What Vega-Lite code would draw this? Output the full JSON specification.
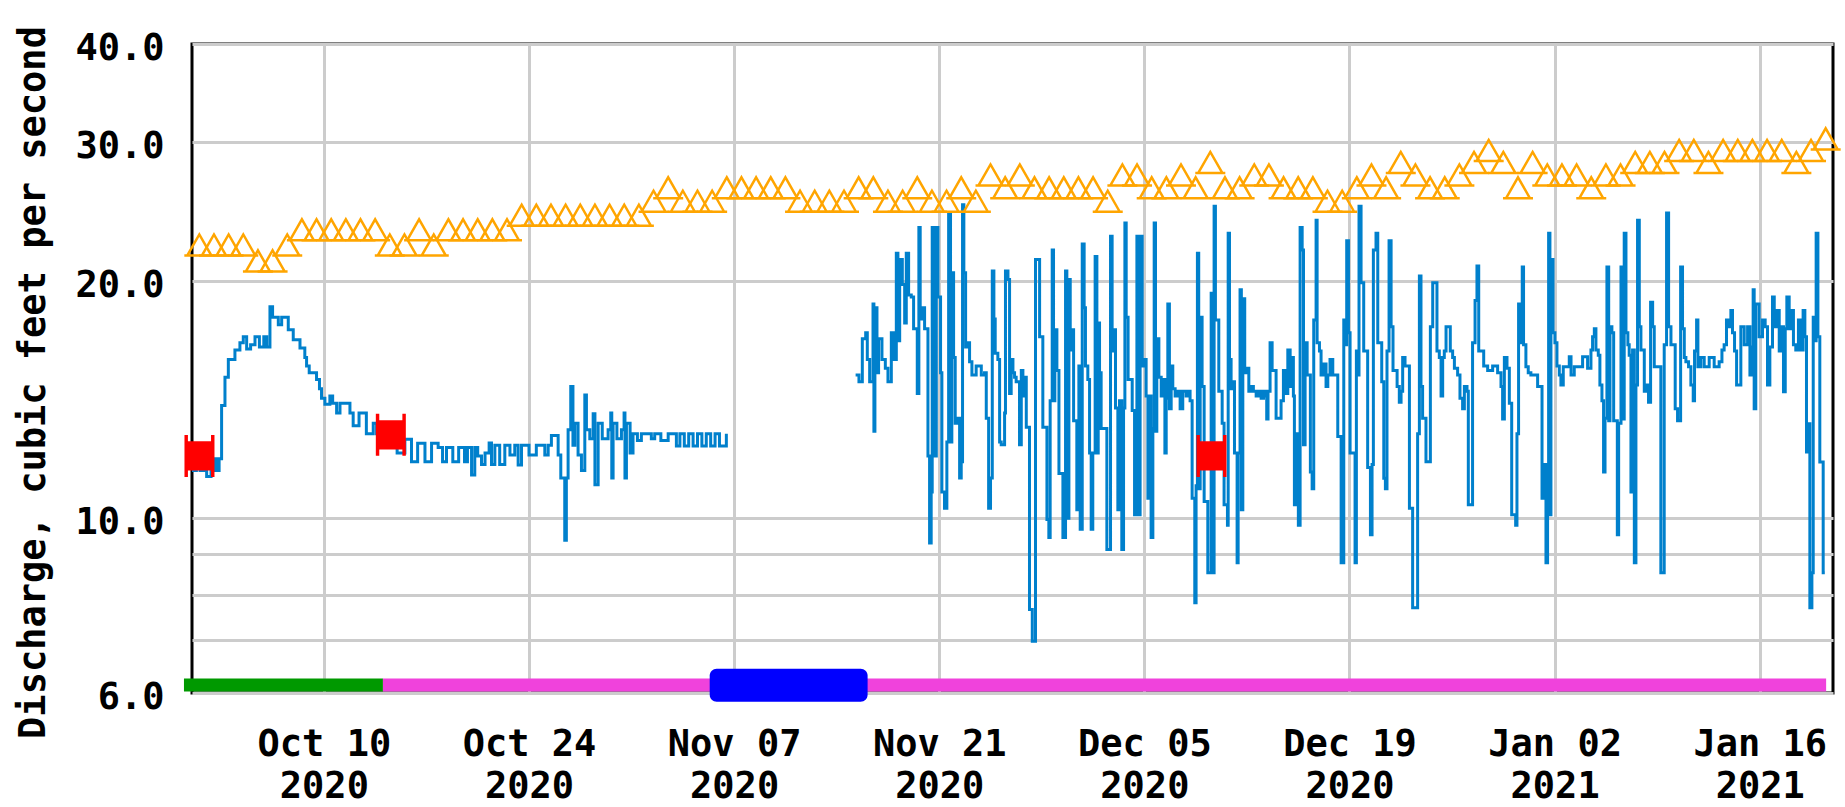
{
  "$schema": "https://vega.github.io/schema/vega-lite/v6.json",
  "width": 1641,
  "height": 649,
  "autosize": {"type": "none"},
  "padding": {"left": 192, "top": 44, "right": 12, "bottom": 114},
  "background": "white",
  "config": {
    "view": {"stroke": "black", "strokeWidth": 3},
    "font": "DejaVu Sans Mono"
  },
  "datasets": {
    "status": [
      {"t": "2020-09-30T10:50", "t2": "2020-10-14T00:45", "status": "Approved"},
      {"t": "2020-10-14T00:45", "t2": "2021-01-20T12:45", "status": "Provisional"}
    ],
    "gap": [
      {"t": "2020-11-05T08:00", "t2": "2020-11-16T02:40", "status": "Equipment malfunction"}
    ],
    "meas": [
      {"t": "2020-10-01T12:15", "v": 12.0},
      {"t": "2020-10-14T13:41", "v": 12.76},
      {"t": "2020-12-09T13:55", "v": 12.0}
    ],
    "median": [
      {"t":"2020-10-01T12:00","v":22},{"t":"2020-10-02T12:00","v":22},{"t":"2020-10-03T12:00","v":22},{"t":"2020-10-04T12:00","v":22},
      {"t":"2020-10-05T12:00","v":21},{"t":"2020-10-06T12:00","v":21},{"t":"2020-10-07T12:00","v":22},{"t":"2020-10-08T12:00","v":23},
      {"t":"2020-10-09T12:00","v":23},{"t":"2020-10-10T12:00","v":23},{"t":"2020-10-11T12:00","v":23},{"t":"2020-10-12T12:00","v":23},
      {"t":"2020-10-13T12:00","v":23},{"t":"2020-10-14T12:00","v":22},{"t":"2020-10-15T12:00","v":22},{"t":"2020-10-16T12:00","v":23},
      {"t":"2020-10-17T12:00","v":22},{"t":"2020-10-18T12:00","v":23},{"t":"2020-10-19T12:00","v":23},{"t":"2020-10-20T12:00","v":23},
      {"t":"2020-10-21T12:00","v":23},{"t":"2020-10-22T12:00","v":23},{"t":"2020-10-23T12:00","v":24},{"t":"2020-10-24T12:00","v":24},
      {"t":"2020-10-25T12:00","v":24},{"t":"2020-10-26T12:00","v":24},{"t":"2020-10-27T12:00","v":24},{"t":"2020-10-28T12:00","v":24},
      {"t":"2020-10-29T12:00","v":24},{"t":"2020-10-30T12:00","v":24},{"t":"2020-10-31T12:00","v":24},
      {"t":"2020-11-01T12:00","v":25},{"t":"2020-11-02T12:00","v":26},{"t":"2020-11-03T12:00","v":25},{"t":"2020-11-04T12:00","v":25},
      {"t":"2020-11-05T12:00","v":25},{"t":"2020-11-06T12:00","v":26},{"t":"2020-11-07T12:00","v":26},{"t":"2020-11-08T12:00","v":26},
      {"t":"2020-11-09T12:00","v":26},{"t":"2020-11-10T12:00","v":26},{"t":"2020-11-11T12:00","v":25},{"t":"2020-11-12T12:00","v":25},
      {"t":"2020-11-13T12:00","v":25},{"t":"2020-11-14T12:00","v":25},{"t":"2020-11-15T12:00","v":26},{"t":"2020-11-16T12:00","v":26},
      {"t":"2020-11-17T12:00","v":25},{"t":"2020-11-18T12:00","v":25},{"t":"2020-11-19T12:00","v":26},{"t":"2020-11-20T12:00","v":25},
      {"t":"2020-11-21T12:00","v":25},{"t":"2020-11-22T12:00","v":26},{"t":"2020-11-23T12:00","v":25},{"t":"2020-11-24T12:00","v":27},
      {"t":"2020-11-25T12:00","v":26},{"t":"2020-11-26T12:00","v":27},{"t":"2020-11-27T12:00","v":26},{"t":"2020-11-28T12:00","v":26},
      {"t":"2020-11-29T12:00","v":26},{"t":"2020-11-30T12:00","v":26},
      {"t":"2020-12-01T12:00","v":26},{"t":"2020-12-02T12:00","v":25},{"t":"2020-12-03T12:00","v":27},{"t":"2020-12-04T12:00","v":27},
      {"t":"2020-12-05T12:00","v":26},{"t":"2020-12-06T12:00","v":26},{"t":"2020-12-07T12:00","v":27},{"t":"2020-12-08T12:00","v":26},
      {"t":"2020-12-09T12:00","v":28},{"t":"2020-12-10T12:00","v":26},{"t":"2020-12-11T12:00","v":26},{"t":"2020-12-12T12:00","v":27},
      {"t":"2020-12-13T12:00","v":27},{"t":"2020-12-14T12:00","v":26},{"t":"2020-12-15T12:00","v":26},{"t":"2020-12-16T12:00","v":26},
      {"t":"2020-12-17T12:00","v":25},{"t":"2020-12-18T12:00","v":25},{"t":"2020-12-19T12:00","v":26},{"t":"2020-12-20T12:00","v":27},
      {"t":"2020-12-21T12:00","v":26},{"t":"2020-12-22T12:00","v":28},{"t":"2020-12-23T12:00","v":27},{"t":"2020-12-24T12:00","v":26},
      {"t":"2020-12-25T12:00","v":26},{"t":"2020-12-26T12:00","v":27},{"t":"2020-12-27T12:00","v":28},{"t":"2020-12-28T12:00","v":29},
      {"t":"2020-12-29T12:00","v":28},{"t":"2020-12-30T12:00","v":26},{"t":"2020-12-31T12:00","v":28},
      {"t":"2021-01-01T12:00","v":27},{"t":"2021-01-02T12:00","v":27},{"t":"2021-01-03T12:00","v":27},{"t":"2021-01-04T12:00","v":26},
      {"t":"2021-01-05T12:00","v":27},{"t":"2021-01-06T12:00","v":27},{"t":"2021-01-07T12:00","v":28},{"t":"2021-01-08T12:00","v":28},
      {"t":"2021-01-09T12:00","v":28},{"t":"2021-01-10T12:00","v":29},{"t":"2021-01-11T12:00","v":29},{"t":"2021-01-12T12:00","v":28},
      {"t":"2021-01-13T12:00","v":29},{"t":"2021-01-14T12:00","v":29},{"t":"2021-01-15T12:00","v":29},{"t":"2021-01-16T12:00","v":29},
      {"t":"2021-01-17T12:00","v":29},{"t":"2021-01-18T12:00","v":28},{"t":"2021-01-19T12:00","v":29},{"t":"2021-01-20T12:00","v":30}
    ],
    "flow": [
      {"t":"2020-10-01T00:00","v":11.5,"seg":1},{"t":"2020-10-01T07:12","v":11.9,"seg":1},{"t":"2020-10-01T13:12","v":11.5,"seg":1},
      {"t":"2020-10-02T00:00","v":11.3,"seg":1},{"t":"2020-10-02T07:12","v":11.5,"seg":1},{"t":"2020-10-02T12:00","v":11.9,"seg":1},
      {"t":"2020-10-02T16:48","v":11.5,"seg":1},{"t":"2020-10-02T20:24","v":11.9,"seg":1},{"t":"2020-10-03T00:29","v":13.9,"seg":1},
      {"t":"2020-10-03T06:00","v":15.1,"seg":1},{"t":"2020-10-03T11:31","v":15.9,"seg":1},{"t":"2020-10-03T22:19","v":16.35,"seg":1},
      {"t":"2020-10-04T06:29","v":16.7,"seg":1},{"t":"2020-10-04T12:00","v":17.0,"seg":1},{"t":"2020-10-04T17:31","v":16.4,"seg":1},
      {"t":"2020-10-05T00:00","v":16.6,"seg":1},{"t":"2020-10-05T07:12","v":17.0,"seg":1},{"t":"2020-10-05T14:24","v":16.5,"seg":1},
      {"t":"2020-10-05T21:36","v":17.0,"seg":1},{"t":"2020-10-06T02:24","v":16.5,"seg":1},{"t":"2020-10-06T07:41","v":18.55,"seg":1},
      {"t":"2020-10-06T12:00","v":18.0,"seg":1},{"t":"2020-10-06T21:22","v":17.6,"seg":1},{"t":"2020-10-07T02:53","v":18.0,"seg":1},
      {"t":"2020-10-07T13:41","v":17.35,"seg":1},{"t":"2020-10-07T21:50","v":16.85,"seg":1},{"t":"2020-10-08T08:53","v":16.45,"seg":1},
      {"t":"2020-10-08T16:48","v":16.0,"seg":1},{"t":"2020-10-08T19:41","v":15.6,"seg":1},{"t":"2020-10-09T00:00","v":15.3,"seg":1},
      {"t":"2020-10-09T12:00","v":15.0,"seg":1},{"t":"2020-10-09T16:48","v":14.6,"seg":1},{"t":"2020-10-09T20:10","v":14.2,"seg":1},
      {"t":"2020-10-10T01:41","v":13.95,"seg":1},{"t":"2020-10-10T09:50","v":14.3,"seg":1},{"t":"2020-10-10T14:24","v":14.0,"seg":1},
      {"t":"2020-10-10T20:53","v":13.6,"seg":1},{"t":"2020-10-11T02:24","v":14.0,"seg":1},{"t":"2020-10-11T18:43","v":13.6,"seg":1},
      {"t":"2020-10-12T00:00","v":13.1,"seg":1},{"t":"2020-10-12T09:36","v":13.6,"seg":1},{"t":"2020-10-12T21:36","v":12.8,"seg":1},
      {"t":"2020-10-13T08:53","v":13.2,"seg":1},{"t":"2020-10-13T14:24","v":12.8,"seg":1},{"t":"2020-10-14T12:00","v":12.6,"seg":1},
      {"t":"2020-10-15T00:00","v":12.1,"seg":1},{"t":"2020-10-15T12:43","v":12.6,"seg":1},{"t":"2020-10-15T23:31","v":11.8,"seg":1},
      {"t":"2020-10-16T09:36","v":12.45,"seg":1},{"t":"2020-10-16T21:36","v":11.8,"seg":1},{"t":"2020-10-17T08:24","v":12.45,"seg":1},
      {"t":"2020-10-17T19:12","v":12.3,"seg":1},{"t":"2020-10-18T02:24","v":11.8,"seg":1},{"t":"2020-10-18T08:53","v":12.3,"seg":1},
      {"t":"2020-10-18T19:12","v":11.8,"seg":1},{"t":"2020-10-19T04:48","v":12.3,"seg":1},{"t":"2020-10-19T14:24","v":11.8,"seg":1},
      {"t":"2020-10-19T19:12","v":12.3,"seg":1},{"t":"2020-10-20T01:55","v":11.35,"seg":1},{"t":"2020-10-20T07:12","v":12.3,"seg":1},
      {"t":"2020-10-20T12:00","v":12.0,"seg":1},{"t":"2020-10-20T18:14","v":11.7,"seg":1},{"t":"2020-10-21T00:00","v":12.1,"seg":1},
      {"t":"2020-10-21T06:43","v":12.46,"seg":1},{"t":"2020-10-21T10:34","v":11.7,"seg":1},{"t":"2020-10-21T16:05","v":12.38,"seg":1},
      {"t":"2020-10-22T00:00","v":11.7,"seg":1},{"t":"2020-10-22T08:24","v":12.38,"seg":1},{"t":"2020-10-22T16:48","v":12.03,"seg":1},
      {"t":"2020-10-23T00:43","v":12.38,"seg":1},{"t":"2020-10-23T06:14","v":11.68,"seg":1},{"t":"2020-10-23T11:46","v":12.38,"seg":1},
      {"t":"2020-10-24T00:00","v":12.03,"seg":1},{"t":"2020-10-24T12:00","v":12.38,"seg":1},{"t":"2020-10-25T01:55","v":12.03,"seg":1},
      {"t":"2020-10-25T07:26","v":12.38,"seg":1},{"t":"2020-10-25T12:43","v":12.74,"seg":1},{"t":"2020-10-25T23:46","v":12.03,"seg":1},
      {"t":"2020-10-26T04:05","v":11.25,"seg":1},{"t":"2020-10-26T10:34","v":9.38,"seg":1},{"t":"2020-10-26T13:12","v":11.25,"seg":1},
      {"t":"2020-10-26T16:05","v":12.95,"seg":1},{"t":"2020-10-26T20:24","v":14.7,"seg":1},{"t":"2020-10-27T00:00","v":12.38,"seg":1},
      {"t":"2020-10-27T03:07","v":13.2,"seg":1},{"t":"2020-10-27T08:24","v":12.03,"seg":1},{"t":"2020-10-27T13:55","v":11.5,"seg":1},
      {"t":"2020-10-27T19:26","v":14.34,"seg":1},{"t":"2020-10-27T22:05","v":12.95,"seg":1},{"t":"2020-10-28T03:36","v":12.62,"seg":1},
      {"t":"2020-10-28T09:07","v":13.57,"seg":1},{"t":"2020-10-28T12:00","v":11.03,"seg":1},{"t":"2020-10-28T17:17","v":13.2,"seg":1},
      {"t":"2020-10-29T00:00","v":12.62,"seg":1},{"t":"2020-10-29T09:36","v":12.95,"seg":1},{"t":"2020-10-29T13:55","v":13.6,"seg":1},
      {"t":"2020-10-29T15:36","v":11.25,"seg":1},{"t":"2020-10-29T17:46","v":13.2,"seg":1},{"t":"2020-10-30T00:00","v":12.62,"seg":1},
      {"t":"2020-10-30T07:26","v":12.95,"seg":1},{"t":"2020-10-30T11:46","v":13.6,"seg":1},{"t":"2020-10-30T13:12","v":11.25,"seg":1},
      {"t":"2020-10-30T15:36","v":13.2,"seg":1},{"t":"2020-10-30T21:36","v":12.1,"seg":1},{"t":"2020-10-31T02:24","v":12.8,"seg":1},
      {"t":"2020-10-31T09:36","v":12.55,"seg":1},{"t":"2020-10-31T16:05","v":12.8,"seg":1},{"t":"2020-11-01T08:24","v":12.62,"seg":1},
      {"t":"2020-11-01T13:55","v":12.8,"seg":1},{"t":"2020-11-02T00:00","v":12.55,"seg":1},{"t":"2020-11-02T12:00","v":12.8,"seg":1},
      {"t":"2020-11-03T01:26","v":12.35,"seg":1},{"t":"2020-11-03T07:12","v":12.8,"seg":1},{"t":"2020-11-03T14:24","v":12.35,"seg":1},
      {"t":"2020-11-03T21:36","v":12.8,"seg":1},{"t":"2020-11-04T04:48","v":12.35,"seg":1},{"t":"2020-11-04T12:00","v":12.8,"seg":1},
      {"t":"2020-11-04T19:12","v":12.35,"seg":1},{"t":"2020-11-05T02:24","v":12.8,"seg":1},{"t":"2020-11-05T09:36","v":12.35,"seg":1},
      {"t":"2020-11-05T16:48","v":12.8,"seg":1},{"t":"2020-11-06T00:00","v":12.35,"seg":1},{"t":"2020-11-06T11:17","v":12.8,"seg":1},

      {"t":"2020-11-15T07:00","v":15.2,"seg":2},{"t":"2020-11-15T12:29","v":14.9,"seg":2},{"t":"2020-11-15T18:00","v":16.9,"seg":2},
      {"t":"2020-11-15T23:31","v":17.2,"seg":2},{"t":"2020-11-16T02:10","v":15.9,"seg":2},{"t":"2020-11-16T06:00","v":14.9,"seg":2},
      {"t":"2020-11-16T11:31","v":18.7,"seg":2},{"t":"2020-11-16T12:58","v":12.9,"seg":2},{"t":"2020-11-16T14:38","v":18.5,"seg":2},
      {"t":"2020-11-16T18:00","v":15.3,"seg":2},{"t":"2020-11-16T20:38","v":16.9,"seg":2},{"t":"2020-11-17T02:10","v":15.9,"seg":2},
      {"t":"2020-11-17T07:41","v":15.5,"seg":2},{"t":"2020-11-17T12:00","v":14.9,"seg":2},{"t":"2020-11-17T17:31","v":17.2,"seg":2},
      {"t":"2020-11-17T21:50","v":15.9,"seg":2},{"t":"2020-11-18T01:41","v":21.7,"seg":2},{"t":"2020-11-18T04:19","v":16.8,"seg":2},
      {"t":"2020-11-18T07:12","v":21.3,"seg":2},{"t":"2020-11-18T11:31","v":19.8,"seg":2},{"t":"2020-11-18T15:22","v":17.7,"seg":2},
      {"t":"2020-11-18T18:00","v":21.7,"seg":2},{"t":"2020-11-18T21:50","v":19.2,"seg":2},{"t":"2020-11-19T02:10","v":19.1,"seg":2},
      {"t":"2020-11-19T06:00","v":17.4,"seg":2},{"t":"2020-11-19T12:00","v":14.4,"seg":2},{"t":"2020-11-19T14:38","v":23.4,"seg":2},
      {"t":"2020-11-19T16:48","v":17.9,"seg":2},{"t":"2020-11-19T21:22","v":18.5,"seg":2},{"t":"2020-11-20T00:00","v":17.4,"seg":2},
      {"t":"2020-11-20T05:31","v":12.0,"seg":2},{"t":"2020-11-20T08:10","v":9.3,"seg":2},{"t":"2020-11-20T10:48","v":10.8,"seg":2},
      {"t":"2020-11-20T12:29","v":23.4,"seg":2},{"t":"2020-11-20T16:19","v":12.0,"seg":2},{"t":"2020-11-20T19:12","v":23.4,"seg":2},
      {"t":"2020-11-20T21:50","v":19.1,"seg":2},{"t":"2020-11-21T02:10","v":15.3,"seg":2},{"t":"2020-11-21T04:19","v":10.8,"seg":2},
      {"t":"2020-11-21T08:38","v":10.3,"seg":2},{"t":"2020-11-21T12:29","v":12.5,"seg":2},{"t":"2020-11-21T15:22","v":24.4,"seg":2},
      {"t":"2020-11-21T18:29","v":12.5,"seg":2},{"t":"2020-11-21T20:38","v":20.5,"seg":2},{"t":"2020-11-21T23:31","v":16.0,"seg":2},
      {"t":"2020-11-22T02:10","v":13.2,"seg":2},{"t":"2020-11-22T06:29","v":13.4,"seg":2},{"t":"2020-11-22T09:22","v":11.25,"seg":2},
      {"t":"2020-11-22T12:00","v":11.8,"seg":2},{"t":"2020-11-22T14:10","v":25.0,"seg":2},{"t":"2020-11-22T16:19","v":20.5,"seg":2},
      {"t":"2020-11-22T19:12","v":16.5,"seg":2},{"t":"2020-11-22T23:02","v":16.7,"seg":2},{"t":"2020-11-23T01:41","v":15.8,"seg":2},
      {"t":"2020-11-23T05:31","v":15.2,"seg":2},{"t":"2020-11-23T12:29","v":15.6,"seg":2},{"t":"2020-11-23T20:53","v":15.2,"seg":2},
      {"t":"2020-11-24T02:10","v":15.3,"seg":2},{"t":"2020-11-24T05:02","v":13.4,"seg":2},{"t":"2020-11-24T08:53","v":10.3,"seg":2},
      {"t":"2020-11-24T12:00","v":11.25,"seg":2},{"t":"2020-11-24T14:53","v":20.6,"seg":2},{"t":"2020-11-24T17:31","v":17.9,"seg":2},
      {"t":"2020-11-24T19:41","v":16.2,"seg":2},{"t":"2020-11-25T00:00","v":15.9,"seg":2},{"t":"2020-11-25T02:53","v":12.5,"seg":2},
      {"t":"2020-11-25T05:31","v":12.4,"seg":2},{"t":"2020-11-25T11:02","v":13.6,"seg":2},{"t":"2020-11-25T12:29","v":20.6,"seg":2},
      {"t":"2020-11-25T16:34","v":20.1,"seg":2},{"t":"2020-11-25T19:12","v":14.4,"seg":2},{"t":"2020-11-25T21:50","v":15.9,"seg":2},
      {"t":"2020-11-26T00:43","v":15.3,"seg":2},{"t":"2020-11-26T03:22","v":15.1,"seg":2},{"t":"2020-11-26T06:00","v":14.9,"seg":2},
      {"t":"2020-11-26T11:31","v":12.4,"seg":2},{"t":"2020-11-26T14:24","v":15.4,"seg":2},{"t":"2020-11-26T17:02","v":14.3,"seg":2},
      {"t":"2020-11-26T19:41","v":15.1,"seg":2},{"t":"2020-11-26T22:34","v":13.05,"seg":2},{"t":"2020-11-27T03:50","v":7.66,"seg":2},
      {"t":"2020-11-27T08:24","v":6.98,"seg":2},{"t":"2020-11-27T13:41","v":21.3,"seg":2},{"t":"2020-11-27T20:24","v":17.0,"seg":2},
      {"t":"2020-11-28T01:41","v":13.05,"seg":2},{"t":"2020-11-28T08:24","v":9.96,"seg":2},{"t":"2020-11-28T11:31","v":9.45,"seg":2},
      {"t":"2020-11-28T13:41","v":14.1,"seg":2},{"t":"2020-11-28T17:02","v":21.9,"seg":2},{"t":"2020-11-28T19:12","v":14.1,"seg":2},
      {"t":"2020-11-28T21:22","v":17.35,"seg":2},{"t":"2020-11-29T00:43","v":15.4,"seg":2},{"t":"2020-11-29T04:05","v":11.4,"seg":2},
      {"t":"2020-11-29T10:34","v":9.45,"seg":2},{"t":"2020-11-29T14:53","v":20.6,"seg":2},{"t":"2020-11-29T17:02","v":10.0,"seg":2},
      {"t":"2020-11-29T20:24","v":20.1,"seg":2},{"t":"2020-11-29T22:34","v":16.35,"seg":2},{"t":"2020-11-30T01:41","v":17.35,"seg":2},
      {"t":"2020-11-30T04:05","v":13.3,"seg":2},{"t":"2020-11-30T09:22","v":10.25,"seg":2},{"t":"2020-11-30T12:43","v":15.6,"seg":2},
      {"t":"2020-11-30T14:53","v":9.68,"seg":2},{"t":"2020-11-30T18:14","v":22.3,"seg":2},{"t":"2020-11-30T21:22","v":18.5,"seg":2},
      {"t":"2020-11-30T23:31","v":15.6,"seg":2},{"t":"2020-12-01T03:22","v":15.0,"seg":2},{"t":"2020-12-01T06:14","v":12.1,"seg":2},
      {"t":"2020-12-01T08:53","v":9.68,"seg":2},{"t":"2020-12-01T11:31","v":12.1,"seg":2},{"t":"2020-12-01T15:22","v":21.5,"seg":2},
      {"t":"2020-12-01T18:14","v":12.1,"seg":2},{"t":"2020-12-01T20:24","v":17.7,"seg":2},{"t":"2020-12-01T22:34","v":15.3,"seg":2},
      {"t":"2020-12-02T01:12","v":13.0,"seg":2},{"t":"2020-12-02T10:34","v":9.13,"seg":2},{"t":"2020-12-02T16:34","v":22.8,"seg":2},
      {"t":"2020-12-02T19:12","v":16.3,"seg":2},{"t":"2020-12-02T22:05","v":17.35,"seg":2},{"t":"2020-12-03T00:43","v":13.8,"seg":2},
      {"t":"2020-12-03T04:34","v":10.25,"seg":2},{"t":"2020-12-03T07:12","v":14.1,"seg":2},{"t":"2020-12-03T11:02","v":9.13,"seg":2},
      {"t":"2020-12-03T13:55","v":13.8,"seg":2},{"t":"2020-12-03T16:05","v":23.7,"seg":2},{"t":"2020-12-03T18:14","v":18.0,"seg":2},
      {"t":"2020-12-03T21:22","v":15.0,"seg":2},{"t":"2020-12-04T04:05","v":13.7,"seg":2},{"t":"2020-12-04T07:55","v":10.1,"seg":2},
      {"t":"2020-12-04T11:46","v":22.8,"seg":2},{"t":"2020-12-04T14:53","v":10.1,"seg":2},{"t":"2020-12-04T17:02","v":22.8,"seg":2},
      {"t":"2020-12-04T20:24","v":15.6,"seg":2},{"t":"2020-12-05T00:14","v":15.9,"seg":2},{"t":"2020-12-05T02:53","v":14.3,"seg":2},
      {"t":"2020-12-05T05:46","v":10.6,"seg":2},{"t":"2020-12-05T08:24","v":14.3,"seg":2},{"t":"2020-12-05T11:02","v":9.45,"seg":2},
      {"t":"2020-12-05T13:55","v":13.0,"seg":2},{"t":"2020-12-05T16:05","v":23.7,"seg":2},{"t":"2020-12-05T18:14","v":12.9,"seg":2},
      {"t":"2020-12-05T20:24","v":16.9,"seg":2},{"t":"2020-12-05T23:46","v":15.1,"seg":2},{"t":"2020-12-06T03:36","v":14.3,"seg":2},
      {"t":"2020-12-06T06:14","v":15.0,"seg":2},{"t":"2020-12-06T09:36","v":12.1,"seg":2},{"t":"2020-12-06T11:46","v":14.2,"seg":2},
      {"t":"2020-12-06T14:24","v":18.7,"seg":2},{"t":"2020-12-06T17:02","v":13.77,"seg":2},{"t":"2020-12-06T19:55","v":15.6,"seg":2},
      {"t":"2020-12-06T22:34","v":14.6,"seg":2},{"t":"2020-12-07T02:24","v":14.3,"seg":2},{"t":"2020-12-07T06:43","v":14.5,"seg":2},
      {"t":"2020-12-07T10:34","v":13.77,"seg":2},{"t":"2020-12-07T14:53","v":14.5,"seg":2},{"t":"2020-12-07T20:24","v":14.3,"seg":2},
      {"t":"2020-12-08T00:43","v":14.5,"seg":2},{"t":"2020-12-08T02:53","v":14.1,"seg":2},{"t":"2020-12-08T06:14","v":10.6,"seg":2},
      {"t":"2020-12-08T10:34","v":7.81,"seg":2},{"t":"2020-12-08T12:43","v":11.0,"seg":2},{"t":"2020-12-08T14:53","v":21.7,"seg":2},
      {"t":"2020-12-08T17:02","v":10.9,"seg":2},{"t":"2020-12-08T19:26","v":18.0,"seg":2},{"t":"2020-12-08T22:34","v":14.7,"seg":2},
      {"t":"2020-12-09T01:55","v":10.5,"seg":2},{"t":"2020-12-09T07:55","v":8.53,"seg":2},{"t":"2020-12-09T13:26","v":19.3,"seg":2},
      {"t":"2020-12-09T16:05","v":8.53,"seg":2},{"t":"2020-12-09T18:14","v":24.9,"seg":2},{"t":"2020-12-09T20:24","v":17.85,"seg":2},
      {"t":"2020-12-10T01:55","v":14.5,"seg":2},{"t":"2020-12-10T07:26","v":13.2,"seg":2},{"t":"2020-12-10T10:34","v":10.4,"seg":2},
      {"t":"2020-12-10T16:05","v":9.8,"seg":2},{"t":"2020-12-10T17:17","v":23.0,"seg":2},{"t":"2020-12-10T19:26","v":15.9,"seg":2},
      {"t":"2020-12-10T22:05","v":14.6,"seg":2},{"t":"2020-12-11T00:43","v":14.9,"seg":2},{"t":"2020-12-11T03:36","v":12.1,"seg":2},
      {"t":"2020-12-11T07:55","v":8.78,"seg":2},{"t":"2020-12-11T09:36","v":12.1,"seg":2},{"t":"2020-12-11T12:43","v":19.5,"seg":2},
      {"t":"2020-12-11T14:53","v":10.25,"seg":2},{"t":"2020-12-11T17:17","v":19.0,"seg":2},{"t":"2020-12-11T20:24","v":15.3,"seg":2},
      {"t":"2020-12-11T23:46","v":15.5,"seg":2},{"t":"2020-12-12T03:07","v":14.5,"seg":2},{"t":"2020-12-12T06:43","v":14.7,"seg":2},
      {"t":"2020-12-12T10:34","v":14.5,"seg":2},{"t":"2020-12-12T15:07","v":14.3,"seg":2},{"t":"2020-12-12T19:26","v":14.5,"seg":2},
      {"t":"2020-12-12T23:17","v":14.2,"seg":2},{"t":"2020-12-13T03:07","v":14.5,"seg":2},{"t":"2020-12-13T06:14","v":14.3,"seg":2},
      {"t":"2020-12-13T08:24","v":13.37,"seg":2},{"t":"2020-12-13T10:34","v":14.5,"seg":2},{"t":"2020-12-13T13:55","v":16.7,"seg":2},
      {"t":"2020-12-13T17:17","v":15.4,"seg":2},{"t":"2020-12-13T23:46","v":13.4,"seg":2},{"t":"2020-12-14T07:55","v":14.1,"seg":2},
      {"t":"2020-12-14T11:46","v":15.4,"seg":2},{"t":"2020-12-14T15:07","v":14.4,"seg":2},{"t":"2020-12-14T18:58","v":16.35,"seg":2},
      {"t":"2020-12-14T22:48","v":14.7,"seg":2},{"t":"2020-12-15T01:26","v":16.0,"seg":2},{"t":"2020-12-15T04:05","v":14.3,"seg":2},
      {"t":"2020-12-15T05:46","v":10.4,"seg":2},{"t":"2020-12-15T09:36","v":12.8,"seg":2},{"t":"2020-12-15T12:14","v":9.8,"seg":2},
      {"t":"2020-12-15T15:07","v":23.4,"seg":2},{"t":"2020-12-15T18:29","v":21.9,"seg":2},{"t":"2020-12-15T20:38","v":12.4,"seg":2},
      {"t":"2020-12-15T23:17","v":16.7,"seg":2},{"t":"2020-12-16T02:38","v":15.2,"seg":2},{"t":"2020-12-16T07:55","v":11.45,"seg":2},
      {"t":"2020-12-16T10:48","v":10.9,"seg":2},{"t":"2020-12-16T13:26","v":17.85,"seg":2},{"t":"2020-12-16T17:17","v":23.9,"seg":2},
      {"t":"2020-12-16T18:58","v":16.7,"seg":2},{"t":"2020-12-16T22:48","v":16.3,"seg":2},{"t":"2020-12-17T01:26","v":15.2,"seg":2},
      {"t":"2020-12-17T05:46","v":15.7,"seg":2},{"t":"2020-12-17T09:36","v":14.7,"seg":2},{"t":"2020-12-17T12:29","v":15.2,"seg":2},
      {"t":"2020-12-17T16:05","v":15.9,"seg":2},{"t":"2020-12-17T20:38","v":15.2,"seg":2},{"t":"2020-12-18T04:48","v":12.7,"seg":2},
      {"t":"2020-12-18T10:19","v":8.78,"seg":2},{"t":"2020-12-18T14:38","v":17.85,"seg":2},{"t":"2020-12-18T16:48","v":16.6,"seg":2},
      {"t":"2020-12-18T19:26","v":22.5,"seg":2},{"t":"2020-12-18T22:19","v":17.2,"seg":2},{"t":"2020-12-19T00:58","v":12.1,"seg":2},
      {"t":"2020-12-19T09:07","v":8.78,"seg":2},{"t":"2020-12-19T11:17","v":16.3,"seg":2},{"t":"2020-12-19T13:26","v":15.2,"seg":2},
      {"t":"2020-12-19T15:36","v":24.9,"seg":2},{"t":"2020-12-19T18:58","v":19.9,"seg":2},{"t":"2020-12-19T23:17","v":16.3,"seg":2},
      {"t":"2020-12-20T05:46","v":11.6,"seg":2},{"t":"2020-12-20T10:19","v":9.53,"seg":2},{"t":"2020-12-20T12:58","v":11.7,"seg":2},
      {"t":"2020-12-20T15:07","v":21.9,"seg":2},{"t":"2020-12-20T19:26","v":23.0,"seg":2},{"t":"2020-12-20T22:19","v":16.7,"seg":2},
      {"t":"2020-12-21T04:48","v":14.9,"seg":2},{"t":"2020-12-21T08:10","v":11.24,"seg":2},{"t":"2020-12-21T10:48","v":10.9,"seg":2},
      {"t":"2020-12-21T13:26","v":16.3,"seg":2},{"t":"2020-12-21T16:48","v":22.5,"seg":2},{"t":"2020-12-21T20:10","v":17.5,"seg":2},
      {"t":"2020-12-21T23:17","v":15.4,"seg":2},{"t":"2020-12-22T06:00","v":14.7,"seg":2},{"t":"2020-12-22T09:36","v":14.04,"seg":2},
      {"t":"2020-12-22T12:29","v":14.5,"seg":2},{"t":"2020-12-22T15:07","v":16.0,"seg":2},{"t":"2020-12-22T18:58","v":15.6,"seg":2},
      {"t":"2020-12-23T02:10","v":10.3,"seg":2},{"t":"2020-12-23T07:26","v":7.7,"seg":2},{"t":"2020-12-23T15:36","v":12.8,"seg":2},
      {"t":"2020-12-23T18:29","v":20.3,"seg":2},{"t":"2020-12-23T21:07","v":14.7,"seg":2},{"t":"2020-12-23T23:46","v":13.4,"seg":2},
      {"t":"2020-12-24T05:17","v":11.8,"seg":2},{"t":"2020-12-24T12:29","v":17.5,"seg":2},{"t":"2020-12-24T16:19","v":19.9,"seg":2},
      {"t":"2020-12-24T23:17","v":16.3,"seg":2},{"t":"2020-12-25T03:07","v":16.0,"seg":2},{"t":"2020-12-25T06:00","v":14.3,"seg":2},
      {"t":"2020-12-25T08:38","v":16.0,"seg":2},{"t":"2020-12-25T11:17","v":16.3,"seg":2},{"t":"2020-12-25T14:10","v":17.5,"seg":2},
      {"t":"2020-12-25T21:07","v":16.3,"seg":2},{"t":"2020-12-26T00:58","v":16.0,"seg":2},{"t":"2020-12-26T03:50","v":15.5,"seg":2},
      {"t":"2020-12-26T09:07","v":15.2,"seg":2},{"t":"2020-12-26T12:58","v":14.2,"seg":2},{"t":"2020-12-26T17:17","v":13.77,"seg":2},
      {"t":"2020-12-26T20:10","v":14.7,"seg":2},{"t":"2020-12-27T00:29","v":14.5,"seg":2},{"t":"2020-12-27T02:38","v":10.4,"seg":2},
      {"t":"2020-12-27T09:36","v":16.7,"seg":2},{"t":"2020-12-27T13:41","v":18.9,"seg":2},{"t":"2020-12-27T16:48","v":20.9,"seg":2},
      {"t":"2020-12-27T19:41","v":16.3,"seg":2},{"t":"2020-12-28T03:50","v":15.6,"seg":2},{"t":"2020-12-28T10:19","v":15.4,"seg":2},
      {"t":"2020-12-28T18:29","v":15.6,"seg":2},{"t":"2020-12-29T02:38","v":15.3,"seg":2},{"t":"2020-12-29T08:10","v":14.7,"seg":2},
      {"t":"2020-12-29T10:48","v":13.37,"seg":2},{"t":"2020-12-29T13:41","v":16.0,"seg":2},{"t":"2020-12-29T18:00","v":15.5,"seg":2},
      {"t":"2020-12-29T21:50","v":14.0,"seg":2},{"t":"2020-12-30T01:41","v":10.1,"seg":2},{"t":"2020-12-30T08:10","v":9.8,"seg":2},
      {"t":"2020-12-30T10:19","v":12.8,"seg":2},{"t":"2020-12-30T12:58","v":18.7,"seg":2},{"t":"2020-12-30T15:50","v":16.7,"seg":2},
      {"t":"2020-12-30T18:58","v":20.85,"seg":2},{"t":"2020-12-30T21:07","v":16.6,"seg":2},{"t":"2020-12-31T00:58","v":15.57,"seg":2},
      {"t":"2020-12-31T04:48","v":15.3,"seg":2},{"t":"2020-12-31T09:07","v":15.2,"seg":2},{"t":"2020-12-31T20:10","v":14.7,"seg":2},
      {"t":"2021-01-01T03:22","v":10.6,"seg":2},{"t":"2021-01-01T07:12","v":11.7,"seg":2},{"t":"2021-01-01T09:50","v":8.78,"seg":2},
      {"t":"2021-01-01T12:29","v":10.1,"seg":2},{"t":"2021-01-01T14:10","v":23.0,"seg":2},{"t":"2021-01-01T16:19","v":10.1,"seg":2},
      {"t":"2021-01-01T18:00","v":21.3,"seg":2},{"t":"2021-01-01T21:22","v":17.2,"seg":2},{"t":"2021-01-02T00:29","v":16.7,"seg":2},
      {"t":"2021-01-02T03:50","v":15.6,"seg":2},{"t":"2021-01-02T07:41","v":15.2,"seg":2},{"t":"2021-01-02T10:19","v":14.76,"seg":2},
      {"t":"2021-01-02T14:10","v":15.57,"seg":2},{"t":"2021-01-03T00:00","v":16.03,"seg":2},{"t":"2021-01-03T02:53","v":15.2,"seg":2},
      {"t":"2021-01-03T08:10","v":15.57,"seg":2},{"t":"2021-01-03T21:50","v":16.03,"seg":2},{"t":"2021-01-04T06:00","v":15.5,"seg":2},
      {"t":"2021-01-04T11:31","v":16.35,"seg":2},{"t":"2021-01-04T14:10","v":17.0,"seg":2},{"t":"2021-01-04T17:02","v":17.4,"seg":2},
      {"t":"2021-01-04T19:41","v":16.35,"seg":2},{"t":"2021-01-04T23:31","v":16.1,"seg":2},{"t":"2021-01-05T02:10","v":14.76,"seg":2},
      {"t":"2021-01-05T05:31","v":14.1,"seg":2},{"t":"2021-01-05T08:10","v":11.45,"seg":2},{"t":"2021-01-05T10:34","v":13.4,"seg":2},
      {"t":"2021-01-05T13:41","v":20.85,"seg":2},{"t":"2021-01-05T16:34","v":13.3,"seg":2},{"t":"2021-01-05T18:43","v":17.5,"seg":2},
      {"t":"2021-01-05T21:50","v":17.2,"seg":2},{"t":"2021-01-06T00:43","v":13.3,"seg":2},{"t":"2021-01-06T06:43","v":9.53,"seg":2},
      {"t":"2021-01-06T08:53","v":13.2,"seg":2},{"t":"2021-01-06T12:43","v":20.85,"seg":2},{"t":"2021-01-06T15:22","v":13.37,"seg":2},
      {"t":"2021-01-06T18:00","v":23.0,"seg":2},{"t":"2021-01-06T20:53","v":17.2,"seg":2},{"t":"2021-01-07T00:00","v":16.6,"seg":2},
      {"t":"2021-01-07T02:10","v":16.1,"seg":2},{"t":"2021-01-07T05:02","v":10.8,"seg":2},{"t":"2021-01-07T07:41","v":16.35,"seg":2},
      {"t":"2021-01-07T10:34","v":8.78,"seg":2},{"t":"2021-01-07T13:12","v":14.76,"seg":2},{"t":"2021-01-07T15:50","v":23.9,"seg":2},
      {"t":"2021-01-07T18:43","v":17.5,"seg":2},{"t":"2021-01-07T21:22","v":16.35,"seg":2},{"t":"2021-01-08T02:53","v":14.5,"seg":2},
      {"t":"2021-01-08T06:43","v":14.76,"seg":2},{"t":"2021-01-08T09:50","v":14.04,"seg":2},{"t":"2021-01-08T13:12","v":18.8,"seg":2},
      {"t":"2021-01-08T16:34","v":17.5,"seg":2},{"t":"2021-01-08T19:12","v":15.57,"seg":2},{"t":"2021-01-09T06:00","v":8.53,"seg":2},
      {"t":"2021-01-09T11:31","v":16.6,"seg":2},{"t":"2021-01-09T15:22","v":24.4,"seg":2},{"t":"2021-01-09T18:43","v":17.5,"seg":2},
      {"t":"2021-01-09T22:34","v":16.6,"seg":2},{"t":"2021-01-10T05:31","v":13.77,"seg":2},{"t":"2021-01-10T09:22","v":13.3,"seg":2},
      {"t":"2021-01-10T14:24","v":20.85,"seg":2},{"t":"2021-01-10T17:31","v":17.4,"seg":2},{"t":"2021-01-10T20:24","v":16.0,"seg":2},
      {"t":"2021-01-10T23:02","v":15.8,"seg":2},{"t":"2021-01-11T03:22","v":15.57,"seg":2},{"t":"2021-01-11T07:12","v":14.76,"seg":2},
      {"t":"2021-01-11T11:02","v":14.1,"seg":2},{"t":"2021-01-11T13:12","v":16.3,"seg":2},{"t":"2021-01-11T16:34","v":17.85,"seg":2},
      {"t":"2021-01-11T18:43","v":15.57,"seg":2},{"t":"2021-01-11T23:31","v":16.0,"seg":2},{"t":"2021-01-12T05:02","v":15.57,"seg":2},
      {"t":"2021-01-12T13:12","v":16.0,"seg":2},{"t":"2021-01-12T21:22","v":15.57,"seg":2},{"t":"2021-01-13T05:31","v":15.8,"seg":2},
      {"t":"2021-01-13T10:05","v":16.35,"seg":2},{"t":"2021-01-13T13:41","v":16.6,"seg":2},{"t":"2021-01-13T17:31","v":17.85,"seg":2},
      {"t":"2021-01-13T22:05","v":17.5,"seg":2},{"t":"2021-01-14T00:43","v":18.35,"seg":2},{"t":"2021-01-14T03:22","v":17.2,"seg":2},
      {"t":"2021-01-14T06:43","v":16.3,"seg":2},{"t":"2021-01-14T10:05","v":14.76,"seg":2},{"t":"2021-01-14T17:02","v":17.5,"seg":2},
      {"t":"2021-01-14T22:34","v":16.6,"seg":2},{"t":"2021-01-15T04:05","v":17.5,"seg":2},{"t":"2021-01-15T07:55","v":15.2,"seg":2},
      {"t":"2021-01-15T11:02","v":16.5,"seg":2},{"t":"2021-01-15T13:12","v":19.5,"seg":2},{"t":"2021-01-15T14:53","v":13.77,"seg":2},
      {"t":"2021-01-15T17:31","v":18.7,"seg":2},{"t":"2021-01-15T23:02","v":17.0,"seg":2},{"t":"2021-01-16T04:34","v":17.85,"seg":2},
      {"t":"2021-01-16T08:53","v":17.5,"seg":2},{"t":"2021-01-16T12:43","v":14.76,"seg":2},{"t":"2021-01-16T16:34","v":16.5,"seg":2},
      {"t":"2021-01-16T20:53","v":19.1,"seg":2},{"t":"2021-01-16T23:46","v":17.5,"seg":2},{"t":"2021-01-17T03:36","v":18.35,"seg":2},
      {"t":"2021-01-17T07:55","v":16.3,"seg":2},{"t":"2021-01-17T12:14","v":17.5,"seg":2},{"t":"2021-01-17T14:53","v":14.47,"seg":2},
      {"t":"2021-01-17T17:46","v":17.4,"seg":2},{"t":"2021-01-17T20:24","v":19.1,"seg":2},{"t":"2021-01-18T00:14","v":17.4,"seg":2},
      {"t":"2021-01-18T04:34","v":18.35,"seg":2},{"t":"2021-01-18T07:12","v":16.6,"seg":2},{"t":"2021-01-18T11:02","v":16.35,"seg":2},
      {"t":"2021-01-18T15:22","v":17.85,"seg":2},{"t":"2021-01-18T19:12","v":16.35,"seg":2},{"t":"2021-01-18T23:02","v":18.35,"seg":2},
      {"t":"2021-01-19T01:55","v":17.0,"seg":2},{"t":"2021-01-19T04:34","v":12.14,"seg":2},{"t":"2021-01-19T07:55","v":13.18,"seg":2},
      {"t":"2021-01-19T10:05","v":7.7,"seg":2},{"t":"2021-01-19T13:26","v":8.53,"seg":2},{"t":"2021-01-19T15:36","v":18.0,"seg":2},
      {"t":"2021-01-19T18:14","v":16.8,"seg":2},{"t":"2021-01-19T20:24","v":23.0,"seg":2},{"t":"2021-01-19T23:17","v":17.0,"seg":2},
      {"t":"2021-01-20T02:24","v":11.79,"seg":2},{"t":"2021-01-20T07:55","v":8.53,"seg":2},{"t":"2021-01-20T10:34","v":8.53,"seg":2}
    ]
  },
  "layer": [
    {
      "data": {"name": "flow"},
      "mark": {"type": "line", "interpolate": "step-after", "strokeWidth": 3, "color": "#0080CC"},
      "encoding": {
        "x": {
          "field": "t",
          "type": "temporal",
          "scale": {
            "domain": [
              {"year": 2020, "month": 10, "date": 1},
              {"year": 2021, "month": 1, "date": 21}
            ],
            "nice": false
          },
          "axis": {
            "title": null,
            "values": [
              {"year": 2020, "month": 10, "date": 10},
              {"year": 2020, "month": 10, "date": 24},
              {"year": 2020, "month": 11, "date": 7},
              {"year": 2020, "month": 11, "date": 21},
              {"year": 2020, "month": 12, "date": 5},
              {"year": 2020, "month": 12, "date": 19},
              {"year": 2021, "month": 1, "date": 2},
              {"year": 2021, "month": 1, "date": 16}
            ],
            "labelExpr": "[timeFormat(datum.value, '%b %d'), timeFormat(datum.value, '%Y')]",
            "grid": true,
            "gridColor": "#CCCCCC",
            "gridWidth": 3,
            "ticks": false,
            "tickSize": 0,
            "domain": false,
            "labelFont": "DejaVu Sans Mono",
            "labelFontSize": 37,
            "labelFontWeight": "bold",
            "labelColor": "#000000",
            "labelPadding": 33,
            "labelLineHeight": 42,
            "labelBaseline": "top",
            "labelFlush": false,
            "labelOverlap": false
          }
        },
        "y": {
          "field": "v",
          "type": "quantitative",
          "scale": {"type": "log", "domain": [6, 40], "nice": false, "zero": false},
          "axis": {
            "title": "Discharge, cubic feet per second",
            "values": [6, 7, 8, 9, 10, 20, 30, 40],
            "labelExpr": "indexof([6, 10, 20, 30, 40], datum.value) >= 0 ? format(datum.value, '.1f') : ''",
            "grid": true,
            "gridColor": "#CCCCCC",
            "gridWidth": 3,
            "ticks": false,
            "tickSize": 0,
            "domain": false,
            "labelFont": "DejaVu Sans Mono",
            "labelFontSize": 37,
            "labelFontWeight": "bold",
            "labelColor": "#000000",
            "labelPadding": 28,
            "labelOffset": 4,
            "labelBaseline": "middle",
            "labelFlush": false,
            "labelOverlap": false,
            "titleFont": "DejaVu Sans Mono",
            "titleFontSize": 37,
            "titleFontWeight": "bold",
            "titleColor": "#000000",
            "titleAngle": -90,
            "titleAlign": "center",
            "titleBaseline": "alphabetic",
            "titleX": -148,
            "titleY": 338
          }
        },
        "detail": {"field": "seg", "type": "nominal"}
      }
    },
    {
      "data": {"name": "status", "format": {"parse": {"t": "date", "t2": "date"}}},
      "mark": {"type": "rule", "strokeWidth": 13, "strokeCap": "butt"},
      "encoding": {
        "x": {"field": "t", "type": "temporal"},
        "x2": {"field": "t2"},
        "y": {"datum": 6.14, "type": "quantitative"},
        "color": {
          "field": "status",
          "type": "nominal",
          "scale": {"domain": ["Approved", "Provisional"], "range": ["#009900", "#F042DC"]},
          "legend": null
        }
      }
    },
    {
      "data": {"name": "gap", "format": {"parse": {"t": "date", "t2": "date"}}},
      "mark": {"type": "rect", "color": "#0000FF", "cornerRadius": 7},
      "encoding": {
        "x": {"field": "t", "type": "temporal"},
        "x2": {"field": "t2"},
        "y": {"datum": 6.442, "type": "quantitative"},
        "y2": {"datum": 5.849}
      }
    },
    {
      "data": {"name": "meas"},
      "mark": {
        "type": "point",
        "shape": "M-1,-1.4L-0.77,-1.4L-0.77,-0.97L0.77,-0.97L0.77,-1.4L1,-1.4L1,1.4L0.77,1.4L0.77,0.97L-0.77,0.97L-0.77,1.4L-1,1.4Z",
        "filled": true,
        "size": 900,
        "color": "#FF0000",
        "opacity": 1,
        "strokeWidth": 0
      },
      "encoding": {
        "x": {"field": "t", "type": "temporal"},
        "y": {"field": "v", "type": "quantitative"}
      }
    },
    {
      "data": {"name": "median"},
      "mark": {
        "type": "point",
        "shape": "M-1.25,0.58L1.25,0.58M-1,0.58L0,-1.17L1,0.58",
        "filled": false,
        "size": 576,
        "color": "#FFA500",
        "opacity": 1,
        "strokeWidth": 2.5
      },
      "encoding": {
        "x": {"field": "t", "type": "temporal"},
        "y": {"field": "v", "type": "quantitative"}
      }
    }
  ]
}
